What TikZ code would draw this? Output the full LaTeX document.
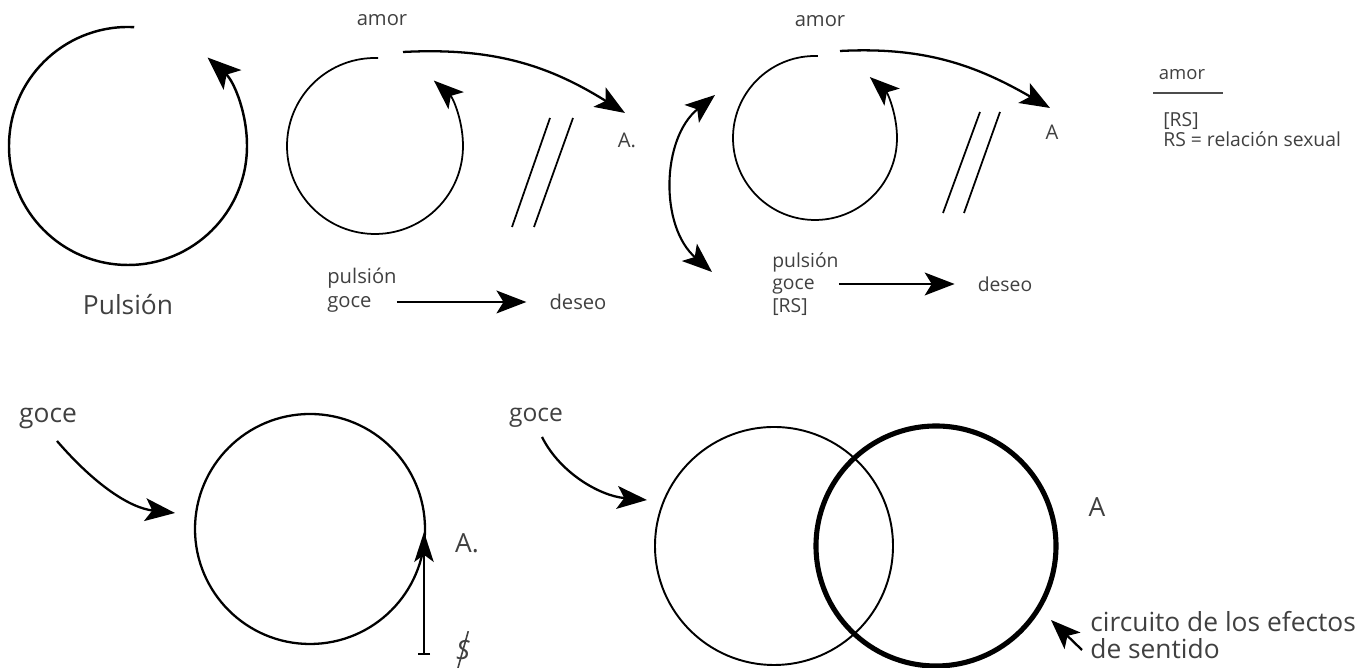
\documentclass[tikz,border=0pt]{standalone}
\usepackage{fontspec}
\setmainfont{Open Sans}
\usetikzlibrary{arrows.meta}

\begin{document}
\begin{tikzpicture}[x=0.02cm,y=0.02cm,
	>={Stealth[length=17pt,width=13pt,inset=4pt]},
	lbl/.style={text=black!75,inner sep=0pt,font=\fontsize{11.5}{14}\selectfont},
	big/.style={text=black!75,inner sep=0pt,font=\fontsize{15}{18}\selectfont},
	flecha/.style={->,line width=1.3pt},
	circuito/.style={line width=1pt}]
	\useasboundingbox (0,0) rectangle (1360,668);
	% Pulsión
	\coordinate (c1) at (128,522);
	\draw [line width=1.4pt,-{Stealth[length=19pt,width=15pt,inset=4.5pt]}] ([shift={(87:119)}]c1) arc[start angle=87,end angle=408,radius=119];
	\node [big] (pul) at (128,363) {Pulsión};
	% amor / pulsión, goce / deseo
	\coordinate (c2) at (375,522);
	\draw [circuito,->] ([shift={(88:88)}]c2) arc[start angle=88,end angle=408,radius=88];
	\node [lbl] (amor1) at (382,648) {amor};
	\coordinate (s1) at (403,616);
	\coordinate (t1) at (625,555);
	\node [lbl] (A1) at (627,528) {A.};
	\draw [flecha] (s1) to[out=3,in=148] (t1);
	\draw [circuito] (550,550) -- (512,441);
	\draw [circuito] (573,550) -- (534,441);
	\node [lbl,anchor=west,align=left] (pg1) at (327,378) {pulsión\\goce};
	\node [lbl] (deseo1) at (578,366) {deseo};
	\draw [flecha,shorten >=13pt] (pg1.east |- deseo1) -- (deseo1.west);
	% amor / pulsión, goce, [RS] / deseo
	\coordinate (c3) at (815,530);
	\draw [circuito,->] ([shift={(88:82)}]c3) arc[start angle=88,end angle=408,radius=82];
	\node [lbl] (amor2) at (820,647) {amor};
	\coordinate (s2) at (840,617);
	\coordinate (t2) at (1050,560);
	\node [lbl] (A2) at (1052,536) {A};
	\draw [flecha] (s2) to[out=3,in=150] (t2);
	\draw [circuito] (980,556) -- (943,455);
	\draw [circuito] (1000,556) -- (964,455);
	\coordinate (d1) at (715,573);
	\coordinate (d2) at (712,396);
	\draw [<->,line width=1.2pt] (d1) to[bend right=50] (d2);
	\node [lbl,anchor=west,align=left,font=\fontsize{11}{12.8}\selectfont] (pg2) at (772,384) {pulsión\\goce\\{[RS]}};
	\node [lbl,font=\fontsize{11}{12.8}\selectfont] (deseo2) at (1005,384) {deseo};
	\draw [flecha,shorten >=13pt] (pg2.east |- deseo2) -- (deseo2.west);
	% leyenda
	\node [lbl,font=\fontsize{10.5}{12.5}\selectfont] (amor3) at (1182,593) {amor};
	\draw [line width=0.6pt,black!70] (1153,575) -- (1223,575);
	\node [lbl,anchor=west,align=left,font=\fontsize{11}{11.5}\selectfont] (rs) at (1163,538) {{[RS]}\\RS = relación sexual};
	% goce / A / S barrado
	\node [big] (goce1) at (48,250) {goce};
	\coordinate (g1) at (57,227);
	\coordinate (e1) at (175,155);
	\draw [flecha] (g1) .. controls (95,183) and (130,160) .. (e1);
	\coordinate (c4) at (310,139);
	\draw [line width=1.3pt] (c4) circle[radius=115];
	\coordinate (b1) at (424,13);
	\coordinate (b2) at (424,136);
	\draw [{Bar[width=7pt]}-{Stealth[length=17pt,width=11pt,inset=4pt]},line width=1.3pt] (b1) -- (b2);
	\node [big] (A3) at (467,125) {A.};
	\node [big] (ss) at (463,18) {\itshape S};
	\draw [line width=0.9pt,black!75] ([xshift=-3pt,yshift=-5pt]ss.south) -- ([xshift=3pt,yshift=5pt]ss.north);
	% circuito de los efectos de sentido
	\node [big,font=\fontsize{14}{17}\selectfont] (goce2) at (536,250) {goce};
	\coordinate (g2) at (542,231);
	\coordinate (e2) at (647,168);
	\draw [flecha] (g2) .. controls (560,195) and (600,172) .. (e2);
	\coordinate (c5) at (774,122);
	\coordinate (c6) at (936,122);
	\draw [line width=1.1pt] (c5) circle[radius=119];
	\draw [line width=2.9pt] (c6) circle[radius=120];
	\node [big] (A4) at (1097,161) {A};
	\node [big,anchor=west,align=left,font=\fontsize{15}{15}\selectfont] (cir) at (1090,33) {circuito de los efectos\\de sentido};
	\coordinate (p1) at (1082,18);
	\coordinate (p2) at (1051,48);
	\draw [flecha] (p1) -- (p2);
\end{tikzpicture}
\end{document}
